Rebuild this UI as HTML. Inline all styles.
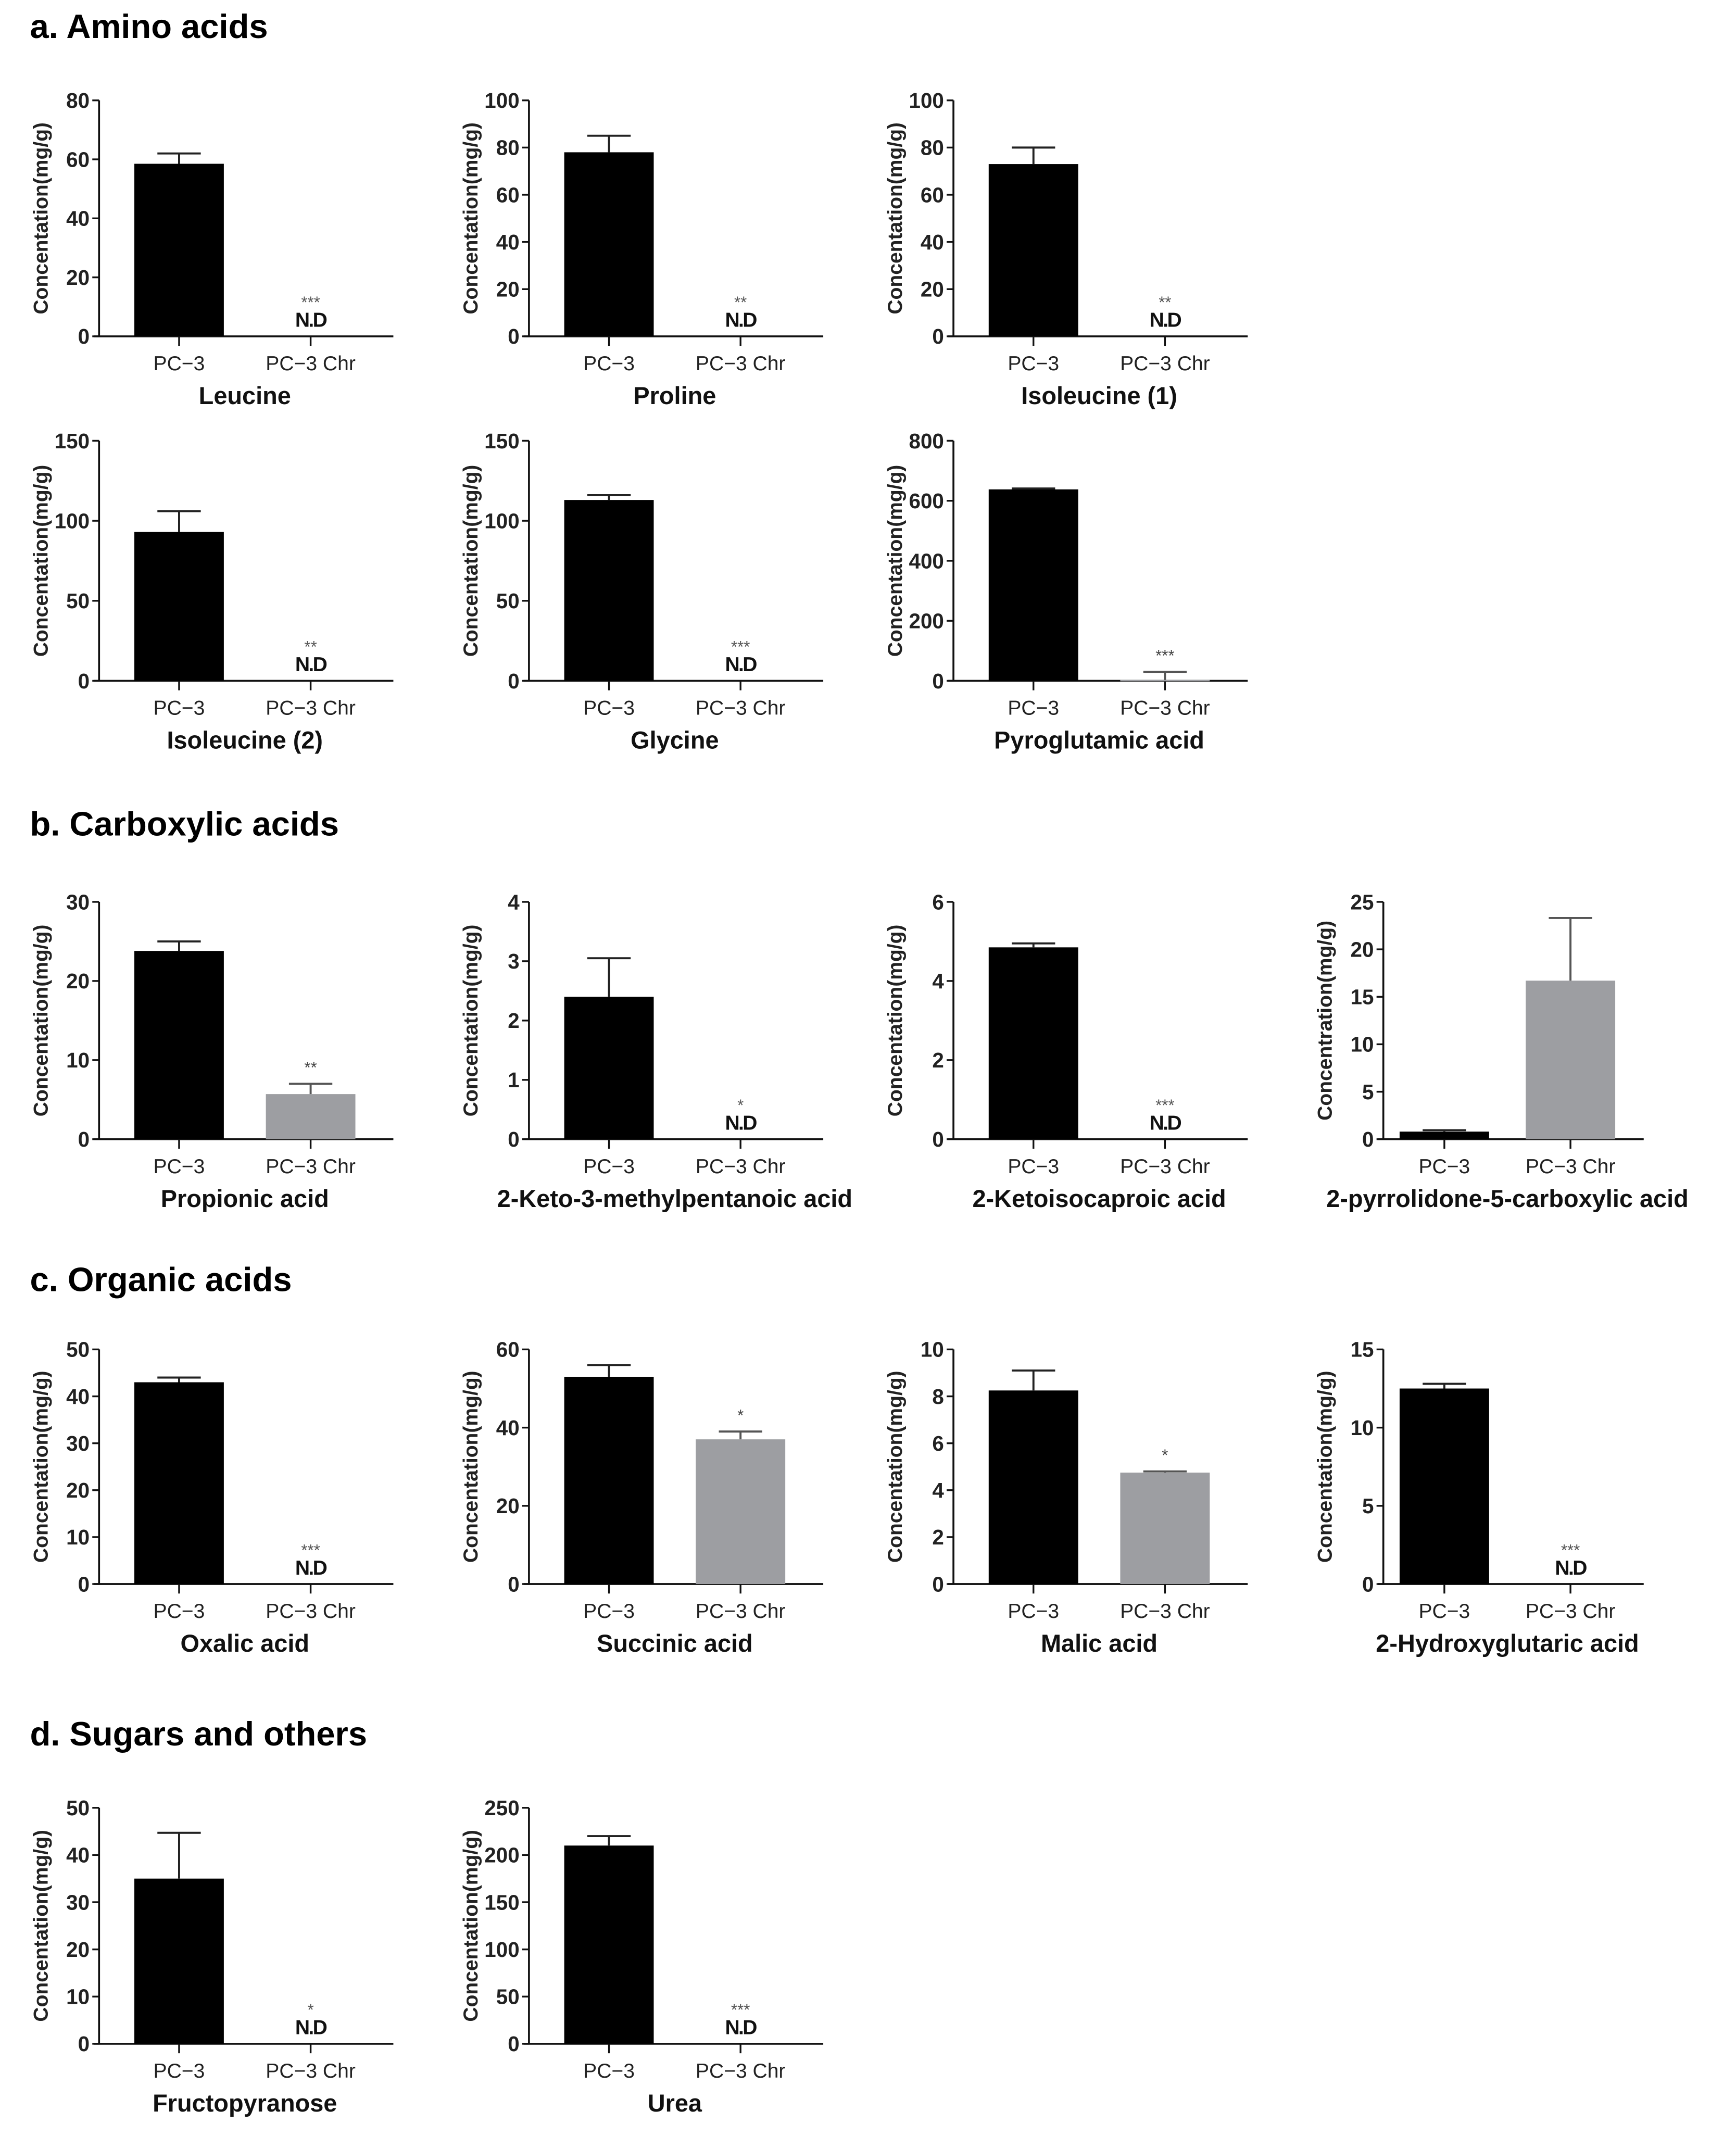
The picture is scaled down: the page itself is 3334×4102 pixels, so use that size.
<!DOCTYPE html>
<html><head><meta charset="utf-8"><style>
html,body{margin:0;padding:0;background:#fff}
svg{display:block}
text{font-family:"Liberation Sans",Arial,sans-serif}
</style></head><body>
<svg id="fig" width="3334" height="4102" viewBox="0 0 1280 1575" xmlns="http://www.w3.org/2000/svg">
<text x="22" y="28" font-size="25" font-weight="bold">a. Amino acids</text>
<text x="22" y="616" font-size="25" font-weight="bold">b. Carboxylic acids</text>
<text x="22" y="952" font-size="25" font-weight="bold">c. Organic acids</text>
<text x="22" y="1287" font-size="25" font-weight="bold">d. Sugars and others</text>
</svg>
<script>
const panelNames = ["Leucine","Proline","Isoleucine (1)","Isoleucine (2)","Glycine","Pyroglutamic acid","Propionic acid","2-Keto-3-methylpentanoic acid","2-Ketoisocaproic acid","2-pyrrolidone-5-carboxylic acid","Oxalic acid","Succinic acid","Malic acid","2-Hydroxyglutaric acid","Fructopyranose","Urea"];
const categories = ["PC\u22123","PC\u22123 Chr"];
const yMax = [80,100,100,150,150,800,30,4,6,25,50,60,10,15,50,250];
const yStep = [20,20,20,50,50,200,10,1,2,5,10,20,2,5,10,50];
const pc3Values = [58.5,78,73,93,113,638,23.8,2.4,4.85,0.8,43,53,8.25,12.5,35,210];
const pc3Errors = [62,85,80,106,116,641,25,3.05,4.95,0.95,44,56,9.1,12.8,44.7,220];
const chrValues = [0,0,0,0,0,3,5.7,0,0,16.7,0,37,4.75,0,0,0];
const chrErrors = [0,0,0,0,0,30,7,0,0,23.3,0,39,4.8,0,0,0];
const chrND = [1,1,1,1,1,0,0,1,1,0,1,0,0,1,1,1];
const sigLabels = ["***","**","**","**","***","***","**","*","***","","***","*","*","***","*","***"];
const yLabels = ["Concentation(mg/g)","Concentation(mg/g)","Concentation(mg/g)","Concentation(mg/g)","Concentation(mg/g)","Concentation(mg/g)","Concentation(mg/g)","Concentation(mg/g)","Concentation(mg/g)","Concentration(mg/g)","Concentation(mg/g)","Concentation(mg/g)","Concentation(mg/g)","Concentation(mg/g)","Concentation(mg/g)","Concentation(mg/g)"];

// layout (not data)
const colX=[73,390,703,1020];
const rowTop=[74,325,665,995,1333];
const rowZero=[248,502,840,1168,1507];
const grid=[[0,0],[1,0],[2,0],[0,1],[1,1],[2,1],[0,2],[1,2],[2,2],[3,2],[0,3],[1,3],[2,3],[3,3],[0,4],[1,4]];
const NS="http://www.w3.org/2000/svg";
const svg=document.getElementById('fig');
function mk(tag,attrs,parent){const e=document.createElementNS(NS,tag);for(const k in attrs)e.setAttribute(k,attrs[k]);(parent||svg).appendChild(e);return e;}
function slug(s){return s.toLowerCase().replace(/[^a-z0-9]+/g,'-').replace(/^-|-$/g,'');}

panelNames.forEach((name,i)=>{
  const [c,r]=grid[i];
  const ax=colX[c], top=rowTop[r], zero=rowZero[r];
  const narrow=(c===3);
  const right=ax+(narrow?192:217);
  const x1=ax+(narrow?45:59), x2=ax+(narrow?138:156);
  const bw=66;
  const yS=v=>zero-(v/yMax[i])*(zero-top);
  const g=mk('g',{});
  
  
  const ya=mk('line',{x1:ax,y1:top,x2:ax,y2:zero,stroke:'#111','stroke-width':1.4},g);
  
  
  const xa=mk('line',{x1:ax-4,y1:zero,x2:right,y2:zero,stroke:'#111','stroke-width':1.4},g);
  
  
  for(let v=0;v<=yMax[i]+1e-9;v+=yStep[i]){
    const y=yS(v);
    mk('line',{x1:ax-5,y1:y,x2:ax,y2:y,stroke:'#111','stroke-width':1.3},g);
    const t=mk('text',{x:ax-7,y:y+5.5,'font-size':15.5,'text-anchor':'end','font-weight':'bold',fill:'#222'},g);
    t.textContent=String(Math.round(v*100)/100);
    
    
  }
  const yt=mk('text',{x:0,y:0,'font-size':15,'font-weight':'bold','text-anchor':'middle',fill:'#222',transform:`translate(${ax-38},${(top+zero)/2}) rotate(-90)`},g);
  yt.textContent=yLabels[i];
  
  
  [x1,x2].forEach((xx,k)=>{
    mk('line',{x1:xx,y1:zero,x2:xx,y2:zero+7,stroke:'#111','stroke-width':1.3},g);
    const t=mk('text',{x:xx,y:zero+25,'font-size':15,'text-anchor':'middle',fill:'#222'},g);
    t.textContent=categories[k];
    
    
  });
  const b1=mk('rect',{x:x1-bw/2,y:yS(pc3Values[i]),width:bw,height:zero-yS(pc3Values[i]),fill:'#000'},g);
  
  
  const ey1=yS(pc3Errors[i]);
  mk('line',{x1:x1,y1:yS(pc3Values[i]),x2:x1,y2:ey1,stroke:'#222','stroke-width':1.5},g);
  mk('line',{x1:x1-16,y1:ey1,x2:x1+16,y2:ey1,stroke:'#222','stroke-width':1.5},g);
  if(!chrND[i]){
    const vy=yS(chrValues[i]);
    const b2=mk('rect',{x:x2-bw/2,y:vy,width:bw,height:Math.max(zero-vy,1),fill:'#9d9ea2'},g);
    
    
    const ey2=yS(chrErrors[i]);
    mk('line',{x1:x2,y1:vy,x2:x2,y2:ey2,stroke:'#555','stroke-width':1.5},g);
    mk('line',{x1:x2-16,y1:ey2,x2:x2+16,y2:ey2,stroke:'#555','stroke-width':1.5},g);
    if(sigLabels[i]){
      const s=mk('text',{x:x2,y:ey2-8,'font-size':12,'text-anchor':'middle',fill:'#444'},g);
      s.textContent=sigLabels[i];
      
      
    }
  } else {
    const nd=mk('text',{x:x2,y:zero-7,'font-size':15,'font-weight':'bold','text-anchor':'middle',fill:'#111','letter-spacing':'-1'},g);
    nd.textContent='N.D';
    
    
    const s=mk('text',{x:x2,y:zero-21,'font-size':12,'text-anchor':'middle',fill:'#555'},g);
    s.textContent=sigLabels[i];
    
    
  }
  const pt=mk('text',{x:(x1+x2)/2,y:zero+50,'font-size':18,'font-weight':'bold','text-anchor':'middle',fill:'#111'},g);
  pt.textContent=name;
  
  
});
</script>
</body></html>
